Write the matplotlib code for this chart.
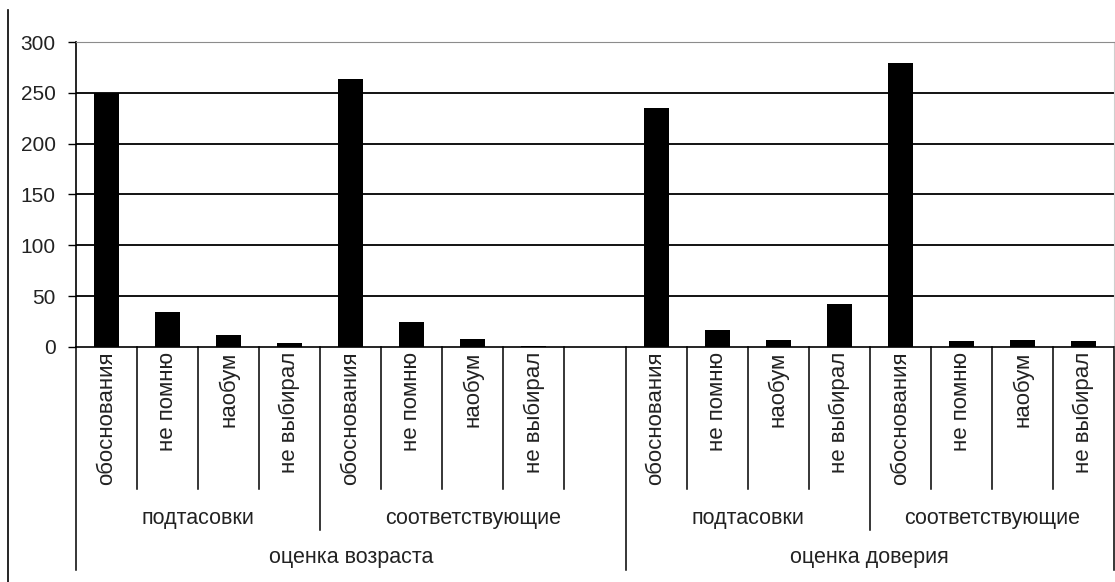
import numpy as np
import matplotlib
matplotlib.use("Agg")
import matplotlib.pyplot as plt
from matplotlib.lines import Line2D

plt.rcParams['font.family'] = ['Liberation Sans', 'DejaVu Sans']

# categories (three levels, Excel-style axis)
answers = ['обоснования', 'не помню', 'наобум', 'не выбирал']
subgroups = ['подтасовки', 'соответствующие']
groups = ['оценка возраста', 'оценка доверия']

# values
age_fake = [250, 34, 12, 4]
age_match = [264, 25, 8, 1]
trust_fake = [235, 17, 7, 42]
trust_match = [279, 6, 7, 6]

yticks = [0, 50, 100, 150, 200, 250, 300]

# build slot list; first top group has one blank slot at the end
slot_labels = answers + answers + [''] + answers + answers
slot_values = age_fake + age_match + [np.nan] + trust_fake + trust_match
sub_spans = [(0, 4, subgroups[0]), (4, 9, subgroups[1]),
             (9, 13, subgroups[0]), (13, 17, subgroups[1])]
grp_spans = [(0, 9, groups[0]), (9, 17, groups[1])]
n = len(slot_labels)

W, H = 1115, 582
fig = plt.figure(figsize=(W / 100, H / 100), dpi=100)
ax = fig.add_axes([76 / W, 235 / H, 1038 / W, 305 / H])

x = np.arange(n) + 0.5
vals = np.array(slot_values, dtype=float)
mask = ~np.isnan(vals)
ax.bar(x[mask], vals[mask], width=0.41, color='black', zorder=3)

ax.set_xlim(0, n)
ax.set_ylim(0, 300)
ax.set_yticks(yticks)
ax.set_yticklabels([str(v) for v in yticks], fontsize=15, color='#222222')
ax.tick_params(axis='y', direction='out', length=6, width=1, pad=8.5, color='black')
ax.set_xticks([])
for v in yticks[1:-1]:
    ax.axhline(v, color='black', lw=1.3, zorder=1)

ax.spines['left'].set_color('black')
ax.spines['bottom'].set_color('black')
ax.spines['left'].set_linewidth(1.2)
ax.spines['bottom'].set_linewidth(1.2)
ax.spines['top'].set_color('#8c8c8c')
ax.spines['right'].set_color('#cfcfcf')

trans = ax.get_xaxis_transform()
lvl1, lvl2, lvl3 = -0.466, -0.600, -0.731

# dividers
long_b = {s for s, e, _ in grp_spans} | {e for s, e, _ in grp_spans}
mid_b = {s for s, e, _ in sub_spans} | {e for s, e, _ in sub_spans}
for b in range(n + 1):
    if b in long_b:
        y1 = lvl3
    elif b in mid_b:
        y1 = lvl2
    else:
        y1 = lvl1
    ax.plot([b, b], [0, y1], color='black', lw=1.1, transform=trans, clip_on=False)

# labels
for xi, lab in zip(x, slot_labels):
    if lab:
        ax.text(xi, -0.015, lab, rotation=90, ha='center', va='top',
                fontsize=16, color='#222222', transform=trans)
for s, e, lab in sub_spans:
    ax.text((s + e) / 2, -0.561, lab, ha='center', va='center',
            fontsize=15.5, color='#222222', transform=trans)
for s, e, lab in grp_spans:
    ax.text((s + e) / 2, -0.689, lab, ha='center', va='center',
            fontsize=15.5, color='#222222', transform=trans)

# chart area border, only the left edge shows in the crop
fig.add_artist(Line2D([8 / W, 8 / W], [0, (H - 10) / H], color='black', lw=1.2))

fig.savefig('out.png', dpi=100)
